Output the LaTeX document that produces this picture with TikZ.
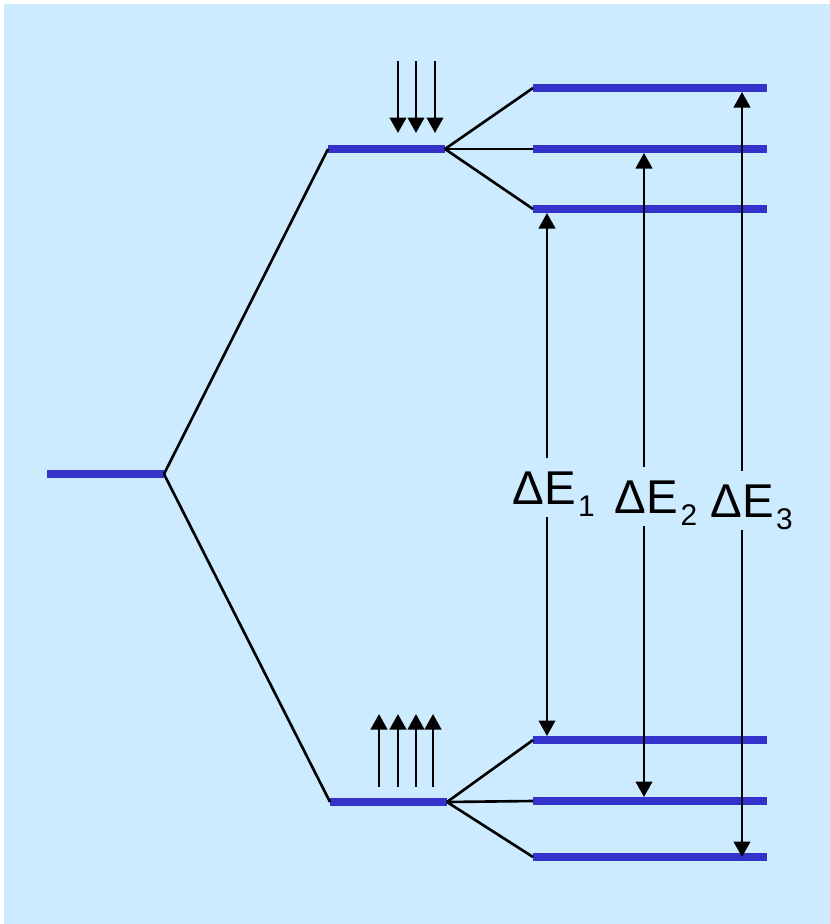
\documentclass[tikz,border=0pt]{standalone}
\usepackage{fontspec}
\setmainfont{Liberation Sans}
\usepackage{xcolor}
\usepackage{tikz}
\usetikzlibrary{arrows.meta,positioning,calc}

\definecolor{bgblue}{RGB}{204,235,255}
\definecolor{lvlblue}{RGB}{51,51,204}

\begin{document}
\begin{tikzpicture}[
    x=0.02cm, y=-0.02cm,
    lvl/.style={rectangle, fill=lvlblue, inner sep=0pt, outer sep=0pt, minimum height=0.16cm, minimum width=2.34cm},
    split/.style={lvl, minimum width=4.68cm},
    tie/.style={line width=1.5pt, draw=black},
    arr/.style={-{Triangle[width=0.33cm,length=0.31cm]}, line width=1.5pt, draw=black},
    dE/.style={inner xsep=0pt, inner ysep=0.26cm, outer sep=0pt, text height=0.66cm, text depth=0pt, font=\fontsize{27}{27}\selectfont}
]
    \useasboundingbox (0,0) rectangle (830,924);
    \fill [bgblue] (4,4) rectangle (830,924);

    \node [lvl] (c) at (105.5,474) {};
    \node [lvl] (u) at (386.5,149) {};
    \node [lvl] (l) at (388.5,802) {};

    \node [split] (u1) at (650,88) {};
    \node [split] (u2) at (650,149) {};
    \node [split] (u3) at (650,209) {};
    \node [split] (l1) at (650,740) {};
    \node [split] (l2) at (650,801) {};
    \node [split] (l3) at (650,857) {};

    \draw [tie] (c.east) -- (u.west);
    \draw [tie] (c.east) -- (l.west);
    \foreach \n in {u1,u2,u3}
        \draw [tie] (u.east) -- (\n.west);
    \foreach \n in {l1,l2,l3}
        \draw [tie] (l.east) -- (\n.west);

    \foreach \x in {398,416,435}
        \draw [arr] (\x,61) -- (\x,133);
    \foreach \x in {379,398,416,433}
        \draw [arr] (\x,787) -- (\x,714);

    \node [dE] (e1) at (547,487.5) {\hspace*{-0.12cm}ΔE\rlap{\hspace{0.05cm}\raisebox{-0.24cm}{\fontsize{17}{17}\selectfont 1}}};
    \node [dE] (e2) at (644,496.5) {\hspace*{0.1cm}ΔE\rlap{\hspace{0.05cm}\raisebox{-0.24cm}{\fontsize{17}{17}\selectfont 2}}};
    \node [dE] (e3) at (742,500.5) {ΔE\rlap{\hspace{0.05cm}\raisebox{-0.24cm}{\fontsize{17}{17}\selectfont 3}}};

    \draw [arr] (e1) -- (e1 |- u3.south);
    \draw [arr] (e1) -- (e1 |- l1.north);
    \draw [arr] (e2) -- (e2 |- u2.south);
    \draw [arr] (e2) -- (e2 |- l2.north);
    \draw [arr] (e3) -- (e3 |- u1.south);
    \draw [arr] (e3) -- (e3 |- l3);
\end{tikzpicture}
\end{document}
